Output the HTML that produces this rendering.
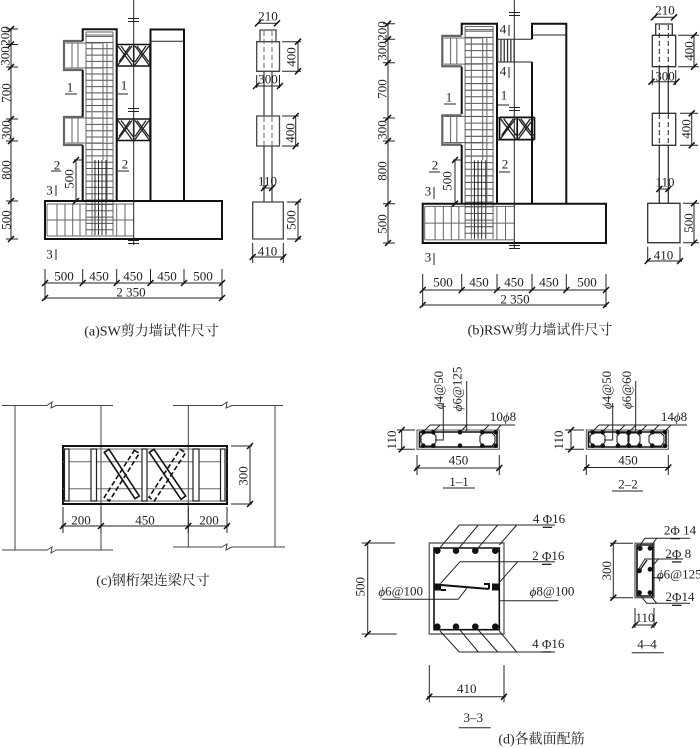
<!DOCTYPE html>
<html lang="zh"><head><meta charset="utf-8"><title>Diagram</title>
<style>
html,body{margin:0;padding:0;background:#fff}
svg{display:block}
text{font-family:"Liberation Serif","Noto Serif CJK SC",serif;font-size:13px;fill:#222;text-anchor:middle;dominant-baseline:central}
.cap{font-size:14px}
.s{font-size:13px}
.l{fill:none;stroke:#222;stroke-width:1}
.t{fill:none;stroke:#111;stroke-width:2}
.g{fill:none;stroke:#666;stroke-width:1}
.k{fill:none;stroke:#111;stroke-width:1.6}
.f{fill:#111;stroke:none}
.u{text-decoration:underline}
</style></head><body>
<svg width="700" height="748" viewBox="0 0 700 748" xmlns="http://www.w3.org/2000/svg">
<defs>
<g id="rebar">
  <path class="g" style="stroke-width:2.200" d="M82.700 41H64V70H82.700M82.700 117H64V145H82.700"/>
  <path class="g" d="M72 42.500V68.500M78 42.500V68.500M72 118.500V143.500M78 118.500V143.500M65.500 43H103M65.500 68H103M65.500 118H104M65.500 143H104"/>
  <path class="g" d="M86 32V235M113 32V235M86 32H113M86 35H113M86 36.500H113"/>
  <path d="M99.500 42V201" fill="none" stroke="#555" stroke-width="27" stroke-dasharray="1 5.300"/>
  <path class="g" d="M92 42V235M103 42V160M107 42V200"/>
  <path class="k" style="stroke-width:.9" d="M95 160V235M98.500 160V235M102 160V235M106 160V235"/>
  <path class="g" d="M47 204H133.700M47 236H133.700M47 204V236M47 220H133.700M57 204V236M65 204V236M72.700 204V236M80 204V236M116.700 204V236M125 204V236"/>
  <path d="M99.500 204V235" fill="none" stroke="#555" stroke-width="27" stroke-dasharray="1 5.300"/>
</g>
<g id="truss">
  <path class="k" d="M117 44.500H150M117 66H150M117 44.500V66M150 44.500V66"/>
  <path class="l" style="stroke-width:1.300" d="M118 46L132 65M132 46L118 65M135 46L149 65M149 46L135 65M121 46L133 62M130 46L119 62M137 46L149 62M146 46L135 62"/>
  <path class="k" d="M133.700 44.500V66"/>
</g>
<g id="tk"><path d="M-3 3L3 -3" stroke="#111" stroke-width="1.500" fill="none"/></g>
</defs>

<!-- Panel a -->
<use href="#rebar"/>
<path class="t" d="M82.700 41V29.300H116.700V201M82.700 70V117M82.700 145V201M150.500 201V29.500H184V201M45 201H222V239H45Z"/>
<path class="l" d="M150.500 41.300H184"/>
<use href="#truss"/><use href="#truss" y="74.500"/>
<path class="l" d="M133.700 0V245M128 18.500H139M128 21.500H139M128 108.500H139M128 111.500H139M128 240.500H139M128 243.500H139"/>
<path class="l" d="M11 29V239M6 29H18M6 44.500H18M6 67H18M6 119H18M6 141H18M6 201H18M6 239H18"/>
<g><use href="#tk" x="11" y="29"/><use href="#tk" x="11" y="44.500"/><use href="#tk" x="11" y="67"/><use href="#tk" x="11" y="119"/><use href="#tk" x="11" y="141"/><use href="#tk" x="11" y="201"/><use href="#tk" x="11" y="239"/></g>
<text transform="translate(5 36) rotate(-90)">200</text>
<text transform="translate(5 56) rotate(-90)">300</text>
<text transform="translate(6 93) rotate(-90)">700</text>
<text transform="translate(6 130) rotate(-90)">300</text>
<text transform="translate(6 170) rotate(-90)">800</text>
<text transform="translate(6 220) rotate(-90)">500</text>
<text transform="translate(69 179) rotate(-90)">500</text>
<path class="l" d="M76 160V201M74 160H82M74 201H82"/><use href="#tk" x="76" y="160"/><use href="#tk" x="76" y="201"/>
<text x="70" y="87">1</text><path class="l" d="M65 94H77"/>
<text x="124" y="85">1</text><path class="l" d="M118 94H128"/>
<text x="57" y="165">2</text><path class="l" d="M51 171H61"/>
<text x="125" y="164">2</text><path class="l" d="M118 171H129"/>
<text x="49.500" y="190">3</text><path class="l" d="M56 185V196"/>
<text x="49.500" y="254">3</text><path class="l" d="M56 249V260"/>
<path class="l" d="M45 283H222M45 298H222M45 269V300M82.700 269V284M116.700 269V284M150.500 269V284M184 269V284M222 269V300"/>
<use href="#tk" x="45" y="283"/><use href="#tk" x="82.700" y="283"/><use href="#tk" x="116.700" y="283"/><use href="#tk" x="150.500" y="283"/><use href="#tk" x="184" y="283"/><use href="#tk" x="222" y="283"/><use href="#tk" x="45" y="298"/><use href="#tk" x="222" y="298"/>
<text x="64" y="276">500</text><text x="99" y="276">450</text><text x="133" y="276">450</text><text x="167" y="276">450</text><text x="203" y="276">500</text><text x="131" y="292">2 350</text>

<!-- Side a -->
<path class="l" style="stroke:#444;stroke-width:1.300" d="M260 41.700V30H276V41.700M256.700 41.700H279.500V71.300H256.700ZM256.700 116H279.500V146H256.700ZM252.700 202H283.300V239H252.700ZM264 71.300V116M272 71.300V116M264 146V202M272 146V202"/>
<path class="l" style="stroke:#666" stroke-dasharray="5 3" d="M264 31V71M272 31V71M264 117V146M272 117V146"/>
<path class="l" d="M258 23.300H277M282 41.700H301M282 71.300H301M298 41.700V71.300M256.700 75V88M279.500 75V88M255 86H281M282 116H299M282 146H299M295.700 116V146M262 188H273M287 202H301M287 239H301M298 202V239M252.700 243V263M283.300 243V263M251 257H285"/>
<use href="#tk" x="258" y="23.300"/><use href="#tk" x="277" y="23.300"/><use href="#tk" x="298" y="41.700"/><use href="#tk" x="298" y="71.300"/><use href="#tk" x="256" y="86"/><use href="#tk" x="280" y="86"/><use href="#tk" x="295.700" y="116"/><use href="#tk" x="295.700" y="146"/><use href="#tk" x="264" y="188"/><use href="#tk" x="272" y="188"/><use href="#tk" x="298" y="202"/><use href="#tk" x="298" y="239"/><use href="#tk" x="252.700" y="257"/><use href="#tk" x="283.300" y="257"/>
<text x="268" y="16">210</text><text x="268" y="79">300</text><text x="267.500" y="181">110</text><text x="267.500" y="251">410</text>
<text transform="translate(291 57) rotate(-90)">400</text><text transform="translate(290 133) rotate(-90)">400</text><text transform="translate(291 220) rotate(-90)">500</text>

<!-- Panel b -->
<use href="#rebar" transform="translate(376 -7) scale(1.036 1.046)"/>
<path class="t" d="M461.700 35V23.700H497V203.700M461.700 66.700V114M461.700 145V203.700M532 39.300V23.700H566.300V203.700M532 62V203.700M422.700 203.700H606V243H422.700Z"/>
<path class="l" d="M532 35H566.300M497 39.300H532M497 62H532M497 117.700H532M497 140H532"/>
<path d="M497 50.700H514" fill="none" stroke="#333" stroke-width="22" stroke-dasharray="1.300 2"/>
<use href="#truss" transform="translate(375.500 71) scale(1.060 1.040)"/>
<path class="l" d="M514.300 0V249M509 12.500H520M509 15.500H520M509 107.500H520M509 110.500H520M509 245.500H520M509 248.500H520"/>
<path class="l" d="M388 23.700V243M383 23.700H395M383 39.300H395M383 62.700H395M383 118H395M383 141H395M383 203.700H395M383 243H395"/>
<use href="#tk" x="388" y="23.700"/><use href="#tk" x="388" y="39.300"/><use href="#tk" x="388" y="62.700"/><use href="#tk" x="388" y="118"/><use href="#tk" x="388" y="141"/><use href="#tk" x="388" y="203.700"/><use href="#tk" x="388" y="243"/>
<text transform="translate(382 31) rotate(-90)">200</text><text transform="translate(382 51) rotate(-90)">300</text><text transform="translate(382 89) rotate(-90)">700</text><text transform="translate(382 130) rotate(-90)">300</text><text transform="translate(382 171) rotate(-90)">800</text><text transform="translate(382 224) rotate(-90)">500</text>
<text transform="translate(447 181) rotate(-90)">500</text>
<path class="l" d="M455 160V203.700M453 160H461M453 203.700H461"/><use href="#tk" x="455" y="160"/><use href="#tk" x="455" y="203.700"/>
<text x="449" y="97">1</text><path class="l" d="M444 104H456"/>
<text x="504" y="95">1</text><path class="l" d="M498 105H509"/>
<text x="435" y="165">2</text><path class="l" d="M429 172H440"/>
<text x="505" y="164">2</text><path class="l" d="M499 172H510"/>
<text x="428" y="191">3</text><path class="l" d="M434 187V199"/>
<text x="428" y="257">3</text><path class="l" d="M434 253V265"/>
<text x="503" y="29">4</text><path class="l" d="M509 25V36"/>
<text x="503" y="71">4</text><path class="l" d="M509 67V78"/>
<path class="l" d="M422.700 290H606M422.700 305H606M422.700 274V307M461.700 274V291M497 274V291M532 274V291M566.300 274V291M606 274V307"/>
<use href="#tk" x="422.700" y="290"/><use href="#tk" x="461.700" y="290"/><use href="#tk" x="497" y="290"/><use href="#tk" x="532" y="290"/><use href="#tk" x="566.300" y="290"/><use href="#tk" x="606" y="290"/><use href="#tk" x="422.700" y="305"/><use href="#tk" x="606" y="305"/>
<text x="443" y="282">500</text><text x="479" y="282">450</text><text x="514" y="282">450</text><text x="549" y="282">450</text><text x="587" y="282">500</text><text x="515" y="299">2 350</text>

<!-- Side b -->
<path class="l" style="stroke:#333;stroke-width:1.300" d="M655.700 35.300V24H672.300V35.300M652.300 35.300H675.700V66.700H652.300ZM652.300 113.300H675.700V145.300H652.300ZM647.700 203.300H680V242.700H647.700ZM659.300 66.700V113.300M668.300 66.700V113.300M659.300 145.300V203.300M668.300 145.300V203.300"/>
<path class="l" stroke-dasharray="5 3" d="M659.300 25V66M668.300 25V66M659.300 114V145M668.300 114V145"/>
<path class="l" d="M654 17.300H674M678 35.300H699M678 66.700H699M694 35.300V66.700M652.300 70V85M675.700 70V85M651 81.700H677M680 113.300H698M680 145.300H698M691.700 113.300V145.300M658 189H670M683 203.300H699M683 242.700H699M694 203.300V242.700M647.700 246.700V262M680 246.700V262M646 261H682"/>
<use href="#tk" x="654" y="17.300"/><use href="#tk" x="674" y="17.300"/><use href="#tk" x="694" y="35.300"/><use href="#tk" x="694" y="66.700"/><use href="#tk" x="651.500" y="81.700"/><use href="#tk" x="676.500" y="81.700"/><use href="#tk" x="691.700" y="113.300"/><use href="#tk" x="691.700" y="145.300"/><use href="#tk" x="659.300" y="189"/><use href="#tk" x="668.300" y="189"/><use href="#tk" x="694" y="203.300"/><use href="#tk" x="694" y="242.700"/><use href="#tk" x="647.700" y="261"/><use href="#tk" x="680" y="261"/>
<text x="665" y="10">210</text><text x="665" y="76">300</text><text x="665" y="182">110</text><text x="663.500" y="255">410</text>
<text transform="translate(689 51) rotate(-90)">400</text><text transform="translate(686 129) rotate(-90)">400</text><text transform="translate(688.300 223) rotate(-90)">500</text>

<text class="cap" x="151.500" y="332">(a)SW剪力墙试件尺寸</text>
<text class="cap" x="540" y="331">(b)RSW剪力墙试件尺寸</text>
<text class="cap" x="153" y="581.500">(c)钢桁架连梁尺寸</text>
<text class="cap" x="541.500" y="740">(d)各截面配筋</text>

<!-- Panel c -->
<path class="l" style="stroke:#444" d="M2 405.500H47L52 402L51 408L56 405.500H113M15 405.500V550M101 405.500V550M2 550H47L52 547L51 553L56 550H113M173 405.500H222L227 402L226 408L232 405.500H283M188.300 405.500V547M275 405.500V547M173 547H222L227 544L226 550L232 547H285"/>
<path class="t" d="M63 446H227V504H63Z"/>
<path class="g" d="M63 449H227M63 501H227M63 461.700H227M63 488.700H227"/>
<path class="l" style="stroke-width:1.200;fill:#fff" d="M64.500 449H69V501H64.500ZM91 449H96.500V501H91ZM142 449H147V501H142ZM193 449H199V501H193ZM220.500 449H225V501H220.500Z"/>
<path class="k" d="M104.300 452.300L109 449.300L139.300 496L135 498.700ZM149.300 452.300L154 449.300L185.700 496L181 499.300Z"/>
<path class="k" stroke-dasharray="5 2.500" d="M134.300 450.300L139.300 453.300L109.300 501L104.300 497.300ZM180 449.300L185.700 452.700L154.300 501L149 497.300Z"/>
<path class="l" d="M231 446H252M231 504H252M250 446V504M63 507V533M101 507V533M188.300 507V533M227 507V533M61 526H229"/>
<use href="#tk" x="250" y="446"/><use href="#tk" x="250" y="504"/><use href="#tk" x="63" y="526"/><use href="#tk" x="101" y="526"/><use href="#tk" x="188.300" y="526"/><use href="#tk" x="227" y="526"/>
<text transform="translate(243 476) rotate(-90)">300</text>
<text x="81" y="520">200</text><text x="145" y="520">450</text><text x="209" y="520">200</text>

<!-- 1-1 -->
<path class="l" style="stroke:#555" d="M417 430H499.300V449.300H417Z"/>
<path class="k" d="M419.500 432H497V447H419.500Z"/>
<path class="k" style="stroke-width:1" d="M424 433H433L436 436V442L433 446H424L421 442V436ZM483 433H492L495 436V442L492 446H483L480 442V436Z"/>
<g class="f"><circle cx="423.300" cy="432.300" r="2.300"/><circle cx="433.300" cy="432.300" r="2.300"/><circle cx="460" cy="432.300" r="2.300"/><circle cx="482.300" cy="432.300" r="2.300"/><circle cx="495.700" cy="432.300" r="2.300"/><circle cx="423.300" cy="445.700" r="2.300"/><circle cx="433.300" cy="445.700" r="2.300"/><circle cx="460" cy="445.700" r="2.300"/><circle cx="482.300" cy="445.700" r="2.300"/><circle cx="495.700" cy="445.700" r="2.300"/></g>
<path class="l" d="M424 431L430 425M434 431L440 425M461 431L467 425M483 431L489 425M496 431L501 425M430 425H515M443.300 403V440H435M466.700 381V431"/>
<text class="s" transform="translate(438.500 390) rotate(-90)"><tspan font-style="italic">ϕ</tspan>4@50</text>
<text class="s" transform="translate(457 389) rotate(-90)"><tspan font-style="italic">ϕ</tspan>6@125</text>
<text class="s" x="503" y="416.500">10<tspan font-style="italic">ϕ</tspan>8</text>
<path class="l" d="M397 430H415M397 449.300H415M401.700 430V449.300M417 455V475M499.300 455V475M415 468H501M443 488H475"/>
<use href="#tk" x="401.700" y="430"/><use href="#tk" x="401.700" y="449.300"/><use href="#tk" x="417" y="468"/><use href="#tk" x="499.300" y="468"/>
<text transform="translate(391.500 440) rotate(-90)">110</text><text x="458.500" y="460">450</text><text x="459" y="481.500">1–1</text>

<!-- 2-2 -->
<path class="l" style="stroke:#555" d="M586.300 430H668.300V449.300H586.300Z"/>
<path class="k" d="M588.500 432H666V447H588.500Z"/>
<path class="k" style="stroke-width:1" d="M593 433H602L605 436V442L602 446H593L590 442V436ZM652 433H661L664 436V442L661 446H652L649 442V436ZM620 433H626L629 436V442L626 446H620L617 442V436ZM631 433H637L640 436V442L637 446H631L628 442V436Z"/>
<g class="f"><circle cx="592.700" cy="432.300" r="2.300"/><circle cx="602.700" cy="432.300" r="2.300"/><circle cx="618" cy="432.300" r="2.300"/><circle cx="629" cy="432.300" r="2.300"/><circle cx="640" cy="432.300" r="2.300"/><circle cx="652.300" cy="432.300" r="2.300"/><circle cx="665" cy="432.300" r="2.300"/><circle cx="592.700" cy="445.700" r="2.300"/><circle cx="602.700" cy="445.700" r="2.300"/><circle cx="618" cy="445.700" r="2.300"/><circle cx="629" cy="445.700" r="2.300"/><circle cx="640" cy="445.700" r="2.300"/><circle cx="652.300" cy="445.700" r="2.300"/><circle cx="665" cy="445.700" r="2.300"/></g>
<path class="l" d="M593 431L599 425M603 431L609 425M619 431L625 425M630 431L636 425M641 431L647 425M653 431L659 425M665 431L671 425M599 425H687M612.700 403V440H604M635.700 381V431"/>
<text class="s" transform="translate(606.700 390) rotate(-90)"><tspan font-style="italic">ϕ</tspan>4@50</text>
<text class="s" transform="translate(626.700 390) rotate(-90)"><tspan font-style="italic">ϕ</tspan>6@60</text>
<text class="s" x="674" y="416.500">14<tspan font-style="italic">ϕ</tspan>8</text>
<path class="l" d="M565 430H584M565 449.300H584M571 430V449.300M586.300 455V475M668.300 455V475M584 467.500H670M612 491H643"/>
<use href="#tk" x="571" y="430"/><use href="#tk" x="571" y="449.300"/><use href="#tk" x="586.300" y="467.500"/><use href="#tk" x="668.300" y="467.500"/>
<text transform="translate(558.500 440) rotate(-90)">110</text><text x="628" y="460">450</text><text x="628" y="484">2–2</text>

<!-- 3-3 -->
<path class="l" style="stroke:#666;stroke-width:1.400" d="M429.300 543H504V634H429.300Z"/>
<path class="k" d="M434 548H499.300V629.700H434Z"/>
<g class="f"><circle cx="437.300" cy="550.700" r="3.300"/><circle cx="456" cy="550.700" r="3.300"/><circle cx="475.300" cy="550.700" r="3.300"/><circle cx="495.300" cy="550.700" r="3.300"/><circle cx="437.300" cy="626.700" r="3.300"/><circle cx="456" cy="626.700" r="3.300"/><circle cx="475.300" cy="626.700" r="3.300"/><circle cx="495.300" cy="626.700" r="3.300"/><rect x="434" y="583.500" width="7" height="7"/><rect x="492" y="583.500" width="7" height="7"/></g>
<path class="t" d="M441 585L489 589M441 590H446M489 589V584H484"/>
<path class="l" d="M459.300 525H555M440 547.700L459.300 525M459.300 547.700L478.300 525M478.300 547.700L497.700 525M499.300 545L516.700 525M459.300 652H555M440 631L459.300 652M460 630L478.300 652M478.300 630L497.700 652M499.300 631L516.700 652M460 561.700H555M440.700 583.300L460 561.700M500 581.700L517.700 561.700M382.300 599.300H458.300L466.700 588.300M499.300 600.700H558.300"/>
<path class="l" d="M361.700 543H395M361.700 634H396.700M367.700 543V634M429.300 665V702.300M504 665V702.300M427 696.700H506M458.700 727.700H490.700"/>
<use href="#tk" x="367.700" y="543"/><use href="#tk" x="367.700" y="634"/><use href="#tk" x="429.300" y="696.700"/><use href="#tk" x="504" y="696.700"/>
<text class="s" x="400.700" y="591"><tspan font-style="italic">ϕ</tspan>6@100</text>
<text class="s" x="552" y="591"><tspan font-style="italic">ϕ</tspan>8@100</text>
<text x="549" y="518.700">4 <tspan class="u">Φ</tspan>16</text>
<text x="548.300" y="555.700">2 <tspan class="u">Φ</tspan>16</text>
<text x="548.300" y="643.300">4 <tspan class="u">Φ</tspan>16</text>
<text transform="translate(360 586.700) rotate(-90)">500</text>
<text x="466.700" y="688.700">410</text>
<text x="473.300" y="717.300">3–3</text>

<!-- 4-4 -->
<path class="l" style="stroke:#666;stroke-width:1.400" d="M635 543.300H654V597.700H635Z"/>
<path class="k" d="M637 545H652.700V596H637Z"/>
<g class="f"><circle cx="640" cy="548.300" r="2.600"/><circle cx="650" cy="548.300" r="2.400"/><circle cx="639.300" cy="570.700" r="2.600"/><circle cx="650" cy="569.300" r="2.400"/><circle cx="639.300" cy="592.700" r="2.600"/><circle cx="650" cy="592.700" r="2.400"/></g>
<path class="l" d="M640 545L645 538.300H690M651.700 545L656.700 538.300M639.300 568L645 559H683M652 566.700L658.300 559M653.300 577.700H663M640 595L646.700 603.300H690M650 595L656.700 603.300"/>
<path class="k" style="stroke-width:1.300" d="M640 570L647 560"/>
<path class="l" d="M610 543.300H633M610 597.700H633M613.300 543.300V597.700M635 608V628M654 608V628M633 625H656M631.700 652.700H663.700"/>
<use href="#tk" x="613.300" y="543.300"/><use href="#tk" x="613.300" y="597.700"/><use href="#tk" x="635" y="625"/><use href="#tk" x="654" y="625"/>
<text x="680" y="530">2<tspan class="u">Φ</tspan> 14</text>
<text x="678.300" y="553.300">2<tspan class="u">Φ</tspan> 8</text>
<text class="s" x="679.300" y="574"><tspan font-style="italic">ϕ</tspan>6@125</text>
<text x="680" y="596.700">2<tspan class="u">Φ</tspan>14</text>
<text transform="translate(606.700 570.700) rotate(-90)">300</text>
<text x="645" y="617.300">110</text>
<text x="647" y="644">4–4</text>
</svg>
</body></html>
